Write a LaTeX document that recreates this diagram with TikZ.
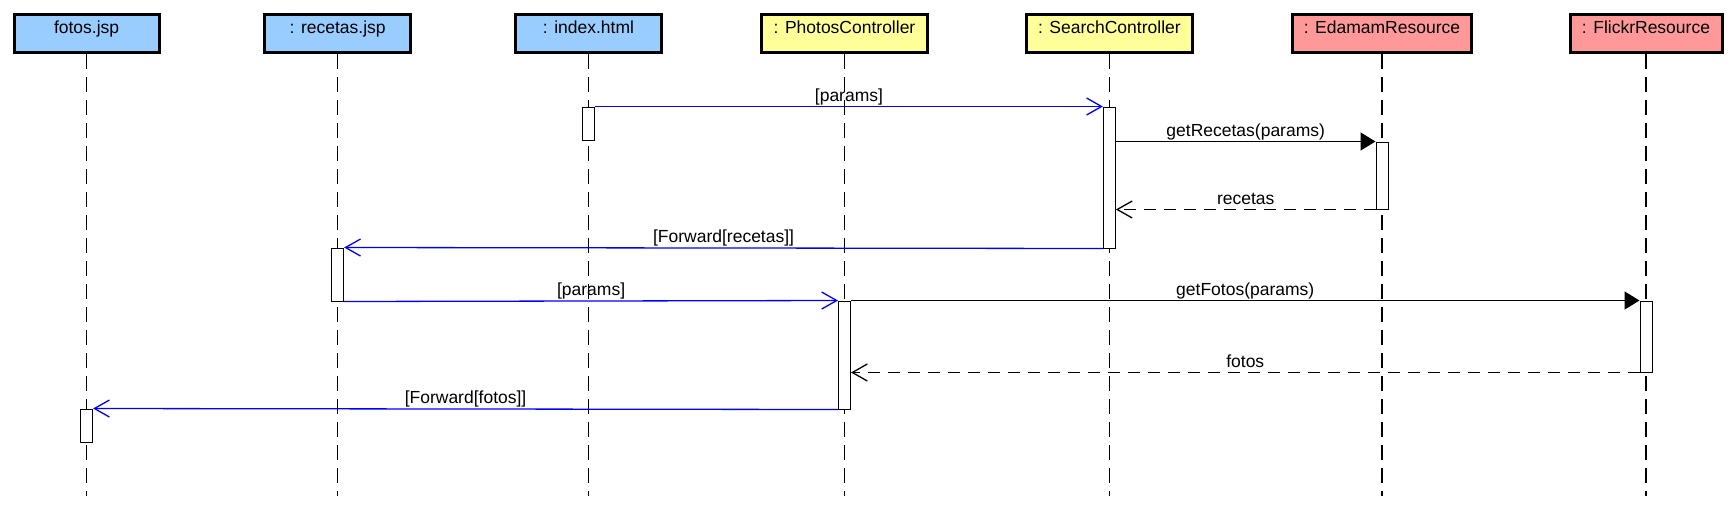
\documentclass[tikz,border=0pt]{standalone}
\usepackage{fontspec}
\setmainfont{Liberation Sans}
\usetikzlibrary{arrows.meta}
\definecolor{hdrblue}{HTML}{99CCFF}
\definecolor{hdryellow}{HTML}{FFFF99}
\definecolor{hdrred}{HTML}{FF9999}
\definecolor{msgblue}{HTML}{0000FF}
\begin{document}
\begin{tikzpicture}[x=0.5pt,y=-0.5pt,
  font=\fontsize{8.75pt}{10pt}\selectfont,
  header/.style={draw, line width=1.5pt, minimum height=19pt, inner sep=0pt, text height=5pt, text depth=5pt},
  lifeline/.style={line width=0.65pt, dash pattern=on 7.5pt off 4pt},
  actbox/.style={draw, fill=white, line width=0.5pt, minimum width=6pt, inner sep=0pt},
  call/.style={line width=0.65pt, -{Triangle[length=7.5pt,width=9pt]}},
  fwd/.style={msgblue, line width=0.65pt, -{Straight Barb[length=7.5pt,width=8.5pt]}},
  ret/.style={line width=0.65pt, dash pattern=on 6pt off 4pt, -{Straight Barb[length=7.5pt,width=8.5pt]}},
  lbl/.style={midway, anchor=base, yshift=2.75pt, text=black, inner sep=0pt}]
\fill[white] (0,0) rectangle (1736,509);
\useasboundingbox (0,0) rectangle (1736,509);

% headers
\node[header, fill=hdrblue,   minimum width=72.5pt] (hFotos)   at (86.6,33.5)  {fotos.jsp};
\node[header, fill=hdrblue,   minimum width=73pt]   (hRecetas) at (337.7,33.5) {: recetas.jsp};
\node[header, fill=hdrblue,   minimum width=73pt]   (hIndex)   at (588.5,33.5) {: index.html};
\node[header, fill=hdryellow, minimum width=83pt]   (hPhotos)  at (844.5,33.5) {: PhotosController};
\node[header, fill=hdryellow, minimum width=83pt]   (hSearch)  at (1109.4,33.5) {: SearchController};
\node[header, fill=hdrred,    minimum width=89.5pt] (hEdamam)  at (1382,33.5)  {: EdamamResource};
\node[header, fill=hdrred,    minimum width=76pt]   (hFlickr)  at (1646,33.5)  {: FlickrResource};

% lifeline ends
\coordinate (eFotos)   at (86.6,496);
\coordinate (eRecetas) at (337.7,496);
\coordinate (eIndex)   at (588.5,496);
\coordinate (ePhotos)  at (844.5,496);
\coordinate (eSearch)  at (1109.4,496);
\coordinate (eEdamam)  at (1382,496);
\coordinate (eFlickr)  at (1646,496);

\draw[lifeline] (hFotos.south)   -- (eFotos);
\draw[lifeline] (hRecetas.south) -- (eRecetas);
\draw[lifeline] (hIndex.south)   -- (eIndex);
\draw[lifeline] (hPhotos.south)  -- (ePhotos);
\draw[lifeline] (hSearch.south)  -- (eSearch);
\draw[lifeline] (hEdamam.south)  -- (eEdamam);
\draw[lifeline] (hFlickr.south)  -- (eFlickr);

% activations
\node[actbox, minimum height=16.5pt] (aIndex)   at (588.5,123.5) {};
\node[actbox, minimum height=70.5pt] (aSearch)  at (1109.4,177.5) {};
\node[actbox, minimum height=33.5pt] (aEdamam)  at (1382,175.5) {};
\node[actbox, minimum height=26.5pt] (aRecetas) at (337.7,274.5) {};
\node[actbox, minimum height=54pt]   (aPhotos)  at (844.5,355) {};
\node[actbox, minimum height=35.5pt] (aFlickr)  at (1646,336.5) {};
\node[actbox, minimum height=16.5pt] (aFotos)   at (86.6,425.5) {};

% messages
\draw[fwd] (aIndex.north east) -- node[lbl] {[params]} (aSearch.north west);
\draw[call] (aSearch.east |- aEdamam.north) -- node[lbl] {getRecetas(params)} (aEdamam.north west);
\draw[ret] (aEdamam.south west) -- node[lbl] {recetas} (aSearch.east |- aEdamam.south);
\draw[fwd] (aSearch.south west) -- node[lbl] {[Forward[recetas]]} (aRecetas.north east);
\draw[fwd] (aRecetas.south east) -- node[lbl] {[params]} (aPhotos.north west);
\draw[call] (aPhotos.north east) -- node[lbl] {getFotos(params)} (aFlickr.north west);
\draw[ret] (aFlickr.south west) -- node[lbl] {fotos} (aPhotos.east |- aFlickr.south);
\draw[fwd] (aPhotos.south west) -- node[lbl] {[Forward[fotos]]} (aFotos.north east);
\end{tikzpicture}
\end{document}
